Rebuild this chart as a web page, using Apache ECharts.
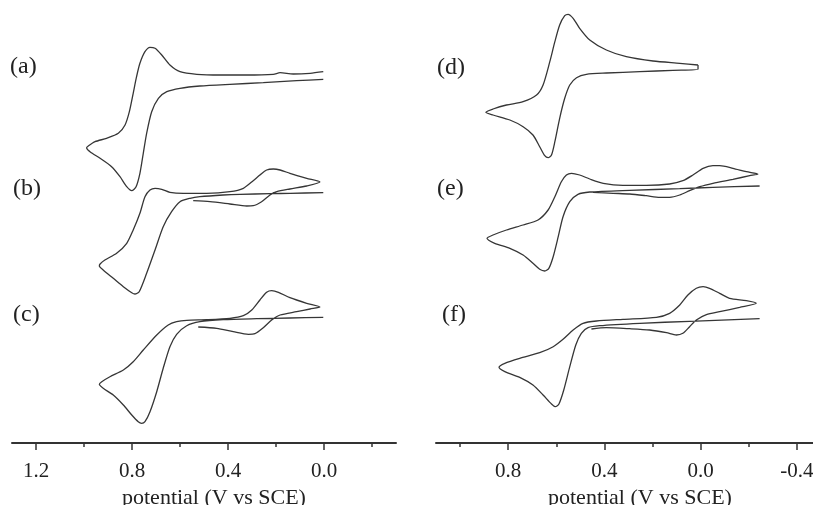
<!DOCTYPE html>
<html>
<head>
<meta charset="utf-8">
<script src="https://cdn.jsdelivr.net/npm/echarts@6/dist/echarts.min.js"></script>
<style>
  html, body { margin: 0; padding: 0; background: #fff; }
  #chart { width: 813px; height: 505px; }
</style>
</head>
<body>
<div id="chart"></div>
<script>
  // potential (V vs SCE), current (a.u., curves stacked)
  var cvA = [[0.003, 371.3], [0.058, 369.7], [0.128, 369], [0.183, 370.3], [0.211, 368.7], [0.322, 368], [0.433, 368], [0.530, 368.7], [0.600, 371.3], [0.642, 378], [0.676, 388], [0.704, 394.7], [0.725, 395.7], [0.746, 391.3], [0.767, 379.7], [0.781, 366.3], [0.795, 349.7], [0.811, 331.3], [0.829, 318], [0.857, 309.7], [0.906, 304.7], [0.954, 301.3], [0.982, 297], [0.989, 295.3], [0.975, 291.3], [0.933, 284.7], [0.885, 276.3], [0.850, 266.3], [0.822, 256.3], [0.801, 252.3], [0.783, 256.3], [0.767, 269.7], [0.753, 289.7], [0.739, 309.7], [0.718, 331.3], [0.690, 344.7], [0.655, 351.3], [0.600, 354.7], [0.517, 357], [0.392, 358.7], [0.253, 360.3], [0.114, 362.3], [0.003, 363.7]];
  var cvB = [[0.545, 242.3], [0.475, 241.3], [0.392, 239], [0.322, 237], [0.295, 237.3], [0.260, 241.3], [0.225, 248], [0.197, 251.3], [0.142, 254], [0.072, 257], [0.017, 261], [0.072, 264.7], [0.142, 269.7], [0.183, 273], [0.211, 274], [0.239, 273], [0.267, 268], [0.295, 262.3], [0.336, 254.7], [0.392, 251.3], [0.489, 249.7], [0.586, 249.7], [0.642, 250.7], [0.676, 253.7], [0.704, 254.7], [0.725, 253], [0.746, 246.3], [0.767, 229.7], [0.795, 213], [0.822, 199.7], [0.864, 189.7], [0.913, 183], [0.933, 179], [0.936, 177], [0.920, 173], [0.878, 164.7], [0.836, 156.3], [0.801, 150.3], [0.788, 149], [0.770, 151.3], [0.739, 169.7], [0.704, 193], [0.670, 216.3], [0.635, 231.3], [0.600, 241.3], [0.558, 244.7], [0.517, 246.3], [0.420, 248], [0.350, 248.7], [0.225, 249.3], [0.142, 249.7], [0.003, 250.3]];
  var cvC = [[0.524, 116], [0.447, 114.7], [0.378, 111.3], [0.315, 108.7], [0.288, 109.3], [0.253, 115.3], [0.218, 123], [0.183, 128], [0.114, 131.3], [0.058, 134], [0.017, 136], [0.072, 139.7], [0.142, 145.3], [0.190, 150.7], [0.218, 152.3], [0.239, 150.7], [0.267, 143], [0.301, 133], [0.336, 127.3], [0.392, 124.7], [0.489, 123.3], [0.572, 122.7], [0.614, 121.3], [0.649, 118], [0.697, 108], [0.753, 93], [0.795, 81.3], [0.836, 73], [0.892, 66.3], [0.926, 61.3], [0.936, 58.7], [0.920, 54.7], [0.878, 48], [0.836, 38], [0.801, 28], [0.774, 21.3], [0.760, 19.7], [0.746, 21.3], [0.725, 31.3], [0.697, 51.3], [0.670, 74.7], [0.642, 96.3], [0.614, 108.7], [0.572, 117.3], [0.517, 121.3], [0.420, 123.3], [0.280, 124.3], [0.142, 125], [0.003, 125.7]];
  var cvD = [[0.011, 378], [0.087, 379.7], [0.198, 382], [0.309, 386.3], [0.392, 393], [0.461, 403], [0.503, 414.7], [0.530, 424.7], [0.551, 428.7], [0.565, 427.3], [0.586, 418], [0.606, 401.3], [0.627, 381.3], [0.655, 358], [0.682, 348], [0.738, 341.3], [0.807, 338], [0.863, 334], [0.893, 330.7], [0.863, 328], [0.793, 323], [0.738, 316.3], [0.697, 308], [0.669, 296.3], [0.648, 287.3], [0.634, 285.3], [0.620, 288], [0.606, 301.3], [0.586, 324.7], [0.565, 344.7], [0.544, 358], [0.516, 365.3], [0.475, 368.7], [0.392, 370], [0.253, 371.3], [0.115, 372.7], [0.011, 373.7], [0.011, 378]];
  var cvE = [[0.447, 250.7], [0.364, 249.7], [0.295, 249], [0.226, 247.3], [0.170, 245.7], [0.129, 245.7], [0.087, 248], [0.046, 252.3], [0.004, 256.3], [-0.051, 259.7], [-0.134, 263.7], [-0.204, 267.3], [-0.238, 269], [-0.190, 271.3], [-0.134, 274.7], [-0.079, 277.3], [-0.051, 277.3], [-0.010, 274.7], [0.032, 268], [0.074, 262.3], [0.129, 259], [0.226, 257.7], [0.323, 257.7], [0.405, 259.7], [0.461, 264], [0.503, 268], [0.537, 269.7], [0.558, 268], [0.579, 261.3], [0.606, 246.3], [0.634, 233], [0.676, 223], [0.738, 218], [0.807, 213], [0.863, 208], [0.888, 204.7], [0.856, 199.7], [0.793, 194.7], [0.738, 188], [0.697, 179.7], [0.669, 173.7], [0.648, 172], [0.631, 174.7], [0.613, 186.3], [0.592, 206.3], [0.572, 226.3], [0.544, 241.3], [0.510, 248.7], [0.461, 251], [0.295, 252.7], [0.087, 254.3], [-0.051, 255.7], [-0.245, 257]];
  var cvF = [[0.454, 114], [0.392, 115.3], [0.295, 114.3], [0.212, 113], [0.142, 110.3], [0.101, 108], [0.074, 109.7], [0.046, 116.3], [0.018, 123], [-0.024, 128.3], [-0.079, 131.3], [-0.162, 135.7], [-0.231, 139.7], [-0.190, 142.3], [-0.120, 144.7], [-0.079, 149.7], [-0.037, 154.7], [-0.010, 156.3], [0.018, 154.7], [0.053, 148], [0.087, 138], [0.129, 129.7], [0.184, 125.7], [0.323, 123.7], [0.433, 122], [0.489, 119.7], [0.530, 113], [0.572, 103.7], [0.613, 96.3], [0.669, 90.3], [0.752, 84.7], [0.814, 79.7], [0.838, 75.7], [0.814, 71.3], [0.752, 65.7], [0.697, 58], [0.655, 48], [0.620, 39], [0.604, 36.3], [0.589, 39], [0.569, 53], [0.544, 76.3], [0.519, 98], [0.496, 109.7], [0.468, 115.3], [0.420, 117.3], [0.253, 119.7], [0.046, 121.7], [-0.245, 124.3]];

  var panelLabels = ['(a)', '(b)', '(c)', '(d)', '(e)', '(f)'];
  var leftMajor = [1.2, 0.8, 0.4, 0.0];
  var leftMinor = [1.0, 0.6, 0.2, -0.2];
  var rightMajor = [0.8, 0.4, 0.0, -0.4];
  var rightMinor = [1.0, 0.6, 0.2, -0.2];
  var axisTitle = 'potential (V vs SCE)';

  var font = '"Liberation Serif", "Times New Roman", serif';
  var ink = '#333';

  function majorAxis(grid, min, max, ticks) {
    return {
      type: 'value', gridIndex: grid, inverse: true, min: min, max: max,
      position: 'bottom',
      axisLine: { show: true, lineStyle: { color: ink, width: 2 } },
      axisTick: { show: true, customValues: ticks, length: 7, lineStyle: { color: ink, width: 1.5 } },
      axisLabel: {
        show: true, customValues: ticks, margin: 18,
        color: '#222', fontFamily: font, fontSize: 21,
        formatter: function (v) { return v.toFixed(1); }
      },
      splitLine: { show: false }
    };
  }
  function minorAxis(grid, min, max, ticks) {
    return {
      type: 'value', gridIndex: grid, inverse: true, min: min, max: max,
      position: 'bottom',
      axisLine: { show: false },
      axisTick: { show: true, customValues: ticks, length: 4, lineStyle: { color: ink, width: 1.5 } },
      axisLabel: { show: false },
      splitLine: { show: false }
    };
  }
  function yAx(grid) {
    return { type: 'value', gridIndex: grid, min: 0, max: 443, show: false };
  }
  function cv(data, xi, yi) {
    return {
      type: 'line', data: data, xAxisIndex: xi, yAxisIndex: yi,
      showSymbol: false, smooth: 0.25, silent: true,
      lineStyle: { color: '#363636', width: 1.3 }
    };
  }

  var labelPos = [[10, 55], [13, 177], [13, 303], [437, 56], [437, 177], [442, 303]];
  var titles = panelLabels.map(function (t, i) {
    return {
      text: t, left: labelPos[i][0], top: labelPos[i][1], padding: 0,
      textStyle: { fontFamily: font, fontSize: 24, fontWeight: 'normal', color: '#222' }
    };
  });
  titles.push({ text: axisTitle, left: 122, top: 487, padding: 0,
    textStyle: { fontFamily: font, fontSize: 22, fontWeight: 'normal', color: '#222' } });
  titles.push({ text: axisTitle, left: 548, top: 487, padding: 0,
    textStyle: { fontFamily: font, fontSize: 22, fontWeight: 'normal', color: '#222' } });

  var chart = echarts.init(document.getElementById('chart'));
  chart.setOption({
    animation: false,
    backgroundColor: '#fff',
    title: titles,
    grid: [
      { left: 12, top: 0, width: 384, height: 443, outerBoundsMode: 'none' },
      { left: 436, top: 0, width: 397, height: 443, outerBoundsMode: 'none' }
    ],
    xAxis: [
      majorAxis(0, -0.3, 1.3, leftMajor),
      minorAxis(0, -0.3, 1.3, leftMinor),
      majorAxis(1, -0.55, 1.1, rightMajor),
      minorAxis(1, -0.55, 1.1, rightMinor)
    ],
    yAxis: [yAx(0), yAx(1)],
    series: [
      cv(cvA, 0, 0), cv(cvB, 0, 0), cv(cvC, 0, 0),
      cv(cvD, 2, 1), cv(cvE, 2, 1), cv(cvF, 2, 1)
    ]
  });
</script>
</body>
</html>
